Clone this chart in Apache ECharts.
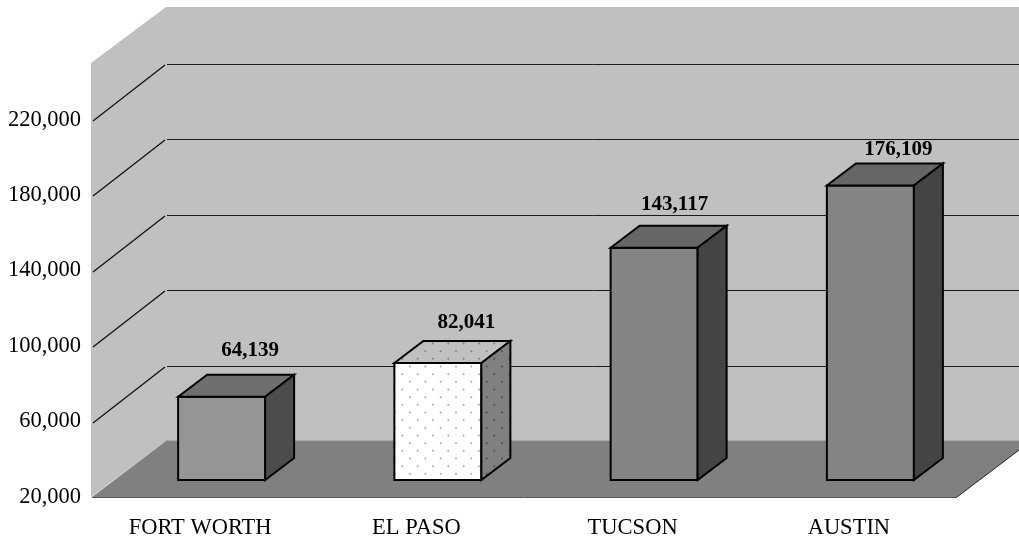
<!DOCTYPE html>
<html>
<head>
<meta charset="utf-8">
<style>
  html, body { margin: 0; padding: 0; background: #fff; }
  #chart { width: 1019px; height: 540px; }
</style>
</head>
<body>
<div id="chart"></div>
<script src="https://cdn.jsdelivr.net/npm/echarts@6/dist/echarts.min.js"></script>
<script>
const cities = ['FORT WORTH', 'EL PASO', 'TUCSON', 'AUSTIN']
const population = [64139, 82041, 143117, 176109]
const tickValues = [20000, 60000, 100000, 140000, 180000, 220000]
const gridValues = [60000, 100000, 140000, 180000, 220000]
const axisMin = 20000
const axisMax = 250000

// value label placement relative to the back top edge of each bar
const labelLift = [24, 18, 21, 14]
const labelShift = [0, 0, -8, -0.5]

// oblique projection, px
const floorDx = 74
const floorDy = -56
const barFrontDx = 21.5
const barFrontDy = -17
const barDepthDx = 29
const barDepthDy = -22
const barWidth = 87

const serif = '"Liberation Serif", "Times New Roman", serif'

function ditherTile (a, b) {
  const c = document.createElement('canvas')
  c.width = 2
  c.height = 2
  const ctx = c.getContext('2d')
  ctx.fillStyle = a
  ctx.fillRect(0, 0, 2, 2)
  ctx.fillStyle = b
  ctx.fillRect(0, 0, 1, 1)
  ctx.fillRect(1, 1, 1, 1)
  return { image: c, repeat: 'repeat' }
}

function dotTile (bg, dot) {
  const c = document.createElement('canvas')
  c.width = 46
  c.height = 46
  const ctx = c.getContext('2d')
  ctx.fillStyle = bg
  ctx.fillRect(0, 0, 46, 46)
  ctx.fillStyle = dot
  for (let i = 0; i < 3; i++) {
    for (let j = 0; j < 3; j++) {
      ctx.beginPath()
      ctx.arc((410 + i * 15.33) % 46, (366.5 + j * 15.33) % 46, 1, 0, Math.PI * 2)
      ctx.arc((402.3 + i * 15.33) % 46, (374.2 + j * 15.33) % 46, 1, 0, Math.PI * 2)
      ctx.fill()
    }
  }
  return { image: c, repeat: 'repeat' }
}

const faces = [
  { front: '#969696', top: '#6f6f6f', side: '#4c4c4c' },
  { front: dotTile('#ffffff', '#a8a8a8'), top: dotTile('#c0c0c0', '#808080'), side: dotTile('#808080', '#4c4c4c') },
  { front: ditherTile('#8a8a8a', '#7e7e7e'), top: ditherTile('#6a6a6a', '#626262'), side: ditherTile('#484848', '#404040') },
  { front: ditherTile('#8a8a8a', '#7e7e7e'), top: ditherTile('#6a6a6a', '#626262'), side: ditherTile('#484848', '#404040') }
]

function poly (points, style) {
  return { type: 'polygon', shape: { points }, style }
}
function seg (x1, y1, x2, y2, stroke, lineWidth) {
  return { type: 'line', shape: { x1, y1, x2, y2 }, style: { stroke, lineWidth: lineWidth || 1, fill: null } }
}

function renderWalls (params, api) {
  const left = api.coord(['FORT WORTH', axisMin])
  const x0 = params.coordSys.x
  const x1 = x0 + params.coordSys.width
  const y0 = left[1]
  const yTop = api.coord(['FORT WORTH', axisMax])[1]
  const bx0 = x0 + floorDx
  const bx1 = x1 + floorDx
  const by0 = y0 + floorDy
  const byTop = yTop + floorDy
  const children = [
    poly([[x0 - 1, yTop], [bx0, byTop], [bx0, by0], [x0 - 1, y0]], { fill: '#c0c0c0' }),
    poly([[bx0, byTop], [bx1, byTop], [bx1, by0], [bx0, by0]], { fill: '#c0c0c0' }),
    poly([[x0, y0], [bx0, by0], [bx1, by0], [x1, y0]], { fill: '#808080' }),
    seg(bx0, by0 - 0.5, bx1, by0 - 0.5, '#a8a8a8'),
    seg(x0, y0 + 0.5, x1, y0 + 0.5, '#555555'),
    seg(x1, y0, bx1, by0, '#222222')
  ]
  gridValues.forEach(v => {
    const y = Math.round(api.coord(['FORT WORTH', v])[1])
    children.push(seg(x0 + 1, y + 1, bx0 - 1, y + floorDy + 1, '#111111', 1.3))
    children.push(seg(bx0 + 1, y + floorDy + 0.5, bx1, y + floorDy + 0.5, '#1a1a1a'))
  })
  return { type: 'group', children }
}

function renderBar (params, api) {
  const i = params.dataIndex
  const top = api.coord([api.value(0), api.value(1)])
  const base = api.coord([api.value(0), axisMin])
  const xl = top[0] - barWidth / 2 + barFrontDx
  const xr = xl + barWidth
  const yb = base[1] + barFrontDy
  const yt = top[1] + barFrontDy
  const dx = barDepthDx
  const dy = barDepthDy
  const f = faces[i]
  const edge = { stroke: '#000', lineWidth: 2, lineJoin: 'miter' }
  return {
    type: 'group',
    children: [
      poly([[xl, yt], [xr, yt], [xr, yb], [xl, yb]], Object.assign({ fill: f.front }, edge)),
      poly([[xl, yt], [xl + dx, yt + dy], [xr + dx, yt + dy], [xr, yt]], Object.assign({ fill: f.top }, edge)),
      poly([[xr, yt], [xr + dx, yt + dy], [xr + dx, yb + dy], [xr, yb]], Object.assign({ fill: f.side }, edge)),
      {
        type: 'text',
        style: {
          x: (xl + xr) / 2 + dx - 0.5 + labelShift[i],
          y: yt + dy - labelLift[i],
          text: population[i].toLocaleString('en-US'),
          font: 'bold 21px ' + serif,
          fill: '#000',
          align: 'center',
          verticalAlign: 'middle'
        }
      }
    ]
  }
}

const chart = echarts.init(document.getElementById('chart'), null, { renderer: 'canvas' })
chart.setOption({
  animation: false,
  backgroundColor: '#ffffff',
  grid: { left: 92, right: 62, top: 63, bottom: 43, containLabel: false },
  xAxis: {
    type: 'category',
    data: cities,
    axisLine: { show: false },
    axisTick: { show: false },
    axisLabel: { color: '#000', fontFamily: serif, fontSize: 22.5, margin: 20 }
  },
  yAxis: {
    type: 'value',
    min: axisMin,
    max: axisMax,
    axisLine: { show: false },
    axisTick: { show: false },
    splitLine: { show: false },
    axisLabel: {
      color: '#000',
      fontFamily: serif,
      fontSize: 22.5,
      margin: 11,
      verticalAlignMinLabel: 'middle',
      customValues: tickValues,
      formatter: v => v.toLocaleString('en-US')
    }
  },
  series: [
    {
      type: 'custom',
      name: 'walls',
      silent: true,
      z: 1,
      renderItem: renderWalls,
      data: [['FORT WORTH', axisMin]],
      clip: false
    },
    {
      type: 'custom',
      name: 'population',
      z: 2,
      renderItem: renderBar,
      encode: { x: 0, y: 1 },
      data: cities.map((c, i) => [c, population[i]]),
      clip: false
    }
  ]
})
</script>
</body>
</html>
